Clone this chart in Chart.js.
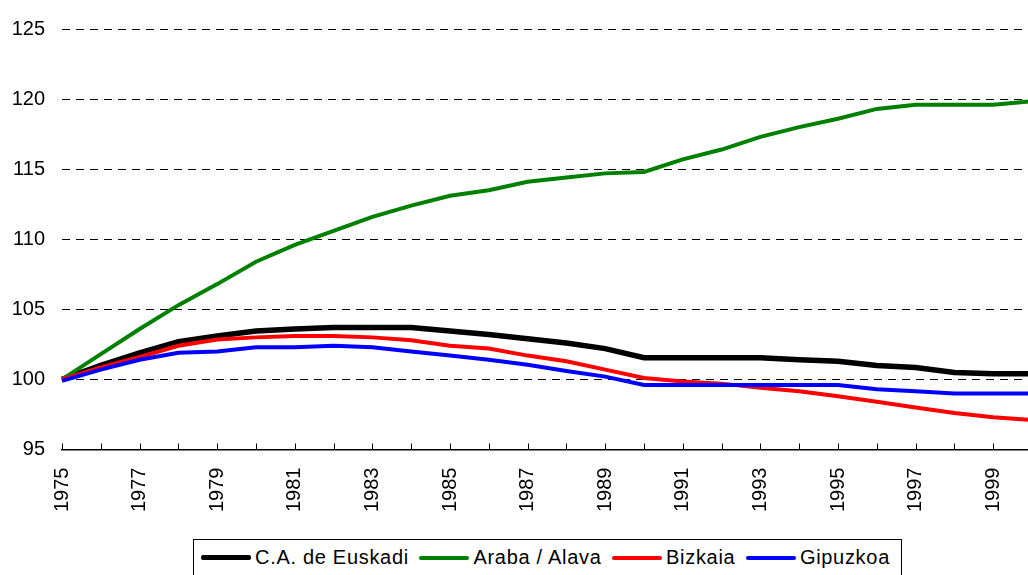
<!DOCTYPE html>
<html lang="es">
<head>
    <meta charset="UTF-8">
    <title>Evolución de la población (1975 = 100)</title>
    <style>
        html, body {
            margin: 0;
            padding: 0;
            background: #fff;
            overflow: hidden;
            font-family: 'Liberation Sans', Arial, sans-serif;
        }

        .wrap {
            position: relative;
            width: 1032px;
            height: 575px;
        }

        .chart-box {
            position: absolute;
            left: 0;
            top: 0;
            width: 1032px;
            height: 530px;
        }

        .legend {
            position: absolute;
            left: 193px;
            top: 539px;
            width: 709px;
            height: 45px;
            border: 1px solid #000;
            box-sizing: border-box;
            display: flex;
            align-items: center;
            padding: 0 0 8px 7px;
            font-size: 20px;
            letter-spacing: 0.7px;
            color: #000;
        }

        .legend-item {
            display: flex;
            align-items: center;
            margin-right: 10.5px;
            white-space: nowrap;
        }

        .swatch {
            display: inline-block;
            width: 50px;
            margin-right: 4px;
            border-radius: 2px;
        }
    </style>
    <script src="https://cdn.jsdelivr.net/npm/chart.js"></script>
</head>
<body>
    <div class="wrap">
        <div class="chart-box">
            <canvas id="popChart"></canvas>
        </div>
        <div class="legend" id="legend"></div>
    </div>

    <script>
        // Data: index 1975 = 100
        const years = [
            '1975', '1976', '1977', '1978', '1979', '1980', '1981', '1982', '1983',
            '1984', '1985', '1986', '1987', '1988', '1989', '1990', '1991', '1992',
            '1993', '1994', '1995', '1996', '1997', '1998', '1999', '2000'
        ];

        const euskadi = [
            100, 101.0, 101.9, 102.7, 103.1, 103.45, 103.6, 103.7, 103.7,
            103.7, 103.45, 103.2, 102.9, 102.6, 102.2, 101.55, 101.55, 101.55,
            101.55, 101.4, 101.3, 101.0, 100.85, 100.5, 100.4, 100.4
        ];

        const araba = [
            100, 101.8, 103.6, 105.3, 106.8, 108.4, 109.6, 110.6, 111.6,
            112.4, 113.1, 113.5, 114.1, 114.4, 114.7, 114.8, 115.7, 116.4,
            117.3, 118.0, 118.6, 119.3, 119.6, 119.6, 119.6, 119.85
        ];

        const bizkaia = [
            100, 100.85, 101.6, 102.4, 102.85, 103.0, 103.1, 103.1, 103.0,
            102.8, 102.4, 102.2, 101.7, 101.3, 100.7, 100.1, 99.85, 99.7,
            99.4, 99.15, 98.8, 98.4, 98.0, 97.6, 97.3, 97.1
        ];

        const gipuzkoa = [
            99.9, 100.7, 101.4, 101.9, 102.0, 102.3, 102.3, 102.4, 102.3,
            102.0, 101.7, 101.4, 101.05, 100.6, 100.2, 99.6, 99.6, 99.6,
            99.6, 99.6, 99.6, 99.3, 99.15, 99.0, 99.0, 99.0
        ];

        const yMin = 95;
        const yMax = 125;
        const yStep = 5;

        const seriesNames = ['C.A. de Euskadi', 'Araba / Alava', 'Bizkaia', 'Gipuzkoa'];
        const seriesColors = ['#000000', '#008000', '#ff0000', '#0000ff'];
        const seriesWidths = [5.5, 4, 4, 4];

        const fontFamily = "'Liberation Sans', Arial, sans-serif";

        // small upward tick marks on the x axis
        const innerTicks = {
            id: 'innerTicks',
            afterDraw(chart) {
                const x = chart.scales.x;
                const ctx = chart.ctx;
                ctx.save();
                ctx.strokeStyle = '#000';
                ctx.lineWidth = 1;
                for (let i = 0; i < years.length; i++) {
                    const px = Math.round(x.getPixelForTick(i)) + 0.5;
                    ctx.beginPath();
                    ctx.moveTo(px, x.top - 6);
                    ctx.lineTo(px, x.top);
                    ctx.stroke();
                }
                ctx.restore();
            }
        };

        const values = [euskadi, araba, bizkaia, gipuzkoa];
        const datasets = values.map((data, i) => ({
            label: seriesNames[i],
            data: data,
            borderColor: seriesColors[i],
            backgroundColor: seriesColors[i],
            borderWidth: seriesWidths[i],
            pointRadius: 0,
            tension: 0,
            fill: false,
            order: 4 - i
        }));

        const ctx = document.getElementById('popChart').getContext('2d');
        const popChart = new Chart(ctx, {
            type: 'line',
            data: {
                labels: years,
                datasets: datasets
            },
            options: {
                responsive: true,
                maintainAspectRatio: false,
                animation: false,
                layout: {
                    padding: { top: 13, right: 0, left: 0, bottom: 0 }
                },
                plugins: {
                    legend: { display: false },
                    tooltip: { enabled: false }
                },
                scales: {
                    x: {
                        type: 'category',
                        offset: false,
                        afterFit: function (scale) {
                            // the original plot runs right to the edge
                            scale.paddingRight = 0;
                            scale.paddingLeft = 0;
                        },
                        grid: { display: false, drawTicks: false },
                        border: { display: true, color: '#000', width: 1.5 },
                        ticks: {
                            autoSkip: false,
                            maxRotation: 90,
                            minRotation: 90,
                            padding: 18,
                            color: '#000',
                            font: { family: fontFamily, size: 20 },
                            callback: function (value, index) {
                                return index % 2 === 0 ? years[index] : '';
                            }
                        }
                    },
                    y: {
                        min: yMin,
                        max: yMax,
                        afterFit: function (scale) {
                            scale.width = 62;
                        },
                        grid: {
                            drawTicks: false,
                            lineWidth: 1,
                            color: function (c) {
                                return c.tick && c.tick.value === yMin ? 'rgba(0,0,0,0)' : '#000';
                            }
                        },
                        border: { display: false, dash: [8, 6] },
                        ticks: {
                            stepSize: yStep,
                            padding: 17,
                            color: '#000',
                            font: { family: fontFamily, size: 20 }
                        }
                    }
                }
            },
            plugins: [innerTicks]
        });

        // HTML legend with a border, like the original
        const legend = document.getElementById('legend');
        seriesNames.forEach((name, i) => {
            const item = document.createElement('span');
            item.className = 'legend-item';
            const sw = document.createElement('span');
            sw.className = 'swatch';
            sw.style.height = seriesWidths[i] + 'px';
            sw.style.background = seriesColors[i];
            const txt = document.createElement('span');
            txt.textContent = name;
            item.appendChild(sw);
            item.appendChild(txt);
            legend.appendChild(item);
        });
    </script>
</body>
</html>
